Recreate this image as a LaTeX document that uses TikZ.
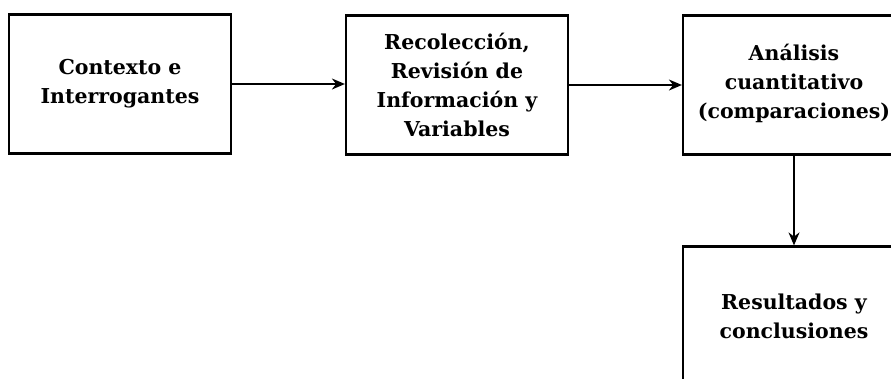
\documentclass[tikz,border=0pt]{standalone}
\usepackage{fontspec}
\setmainfont{DejaVu Serif}
\usetikzlibrary{arrows.meta}
\begin{document}
\begin{tikzpicture}[x=1pt,y=-1pt,
  stepbox/.style={draw=black, line width=2.2pt, rectangle, inner sep=0pt,
    minimum width=222pt, minimum height=139pt, align=center,
    font=\fontsize{20.5}{29}\selectfont\bfseries},
  flow/.style={line width=1.6pt, -{Stealth[length=13pt,width=11pt]}}]
\useasboundingbox (0,0) rectangle (891,378);
\clip (0,0) rectangle (891,378);
\node[stepbox] (ctx) at (120,84) {Contexto e\\Interrogantes};
\node[stepbox] (rec) at (457,85) {Recolección,\\Revisión de\\Información y\\Variables};
\node[stepbox] (ana) at (794,85) {Análisis\\cuantitativo\\(comparaciones)\\[-21pt]};
\node[stepbox] (res) at (794,316) {Resultados y\\conclusiones};
\draw[flow] (ctx.east) -- (ctx.east -| rec.west);
\draw[flow] (rec.east) -- (ana.west);
\draw[flow] (ana.south) -- (res.north);
\end{tikzpicture}
\end{document}
